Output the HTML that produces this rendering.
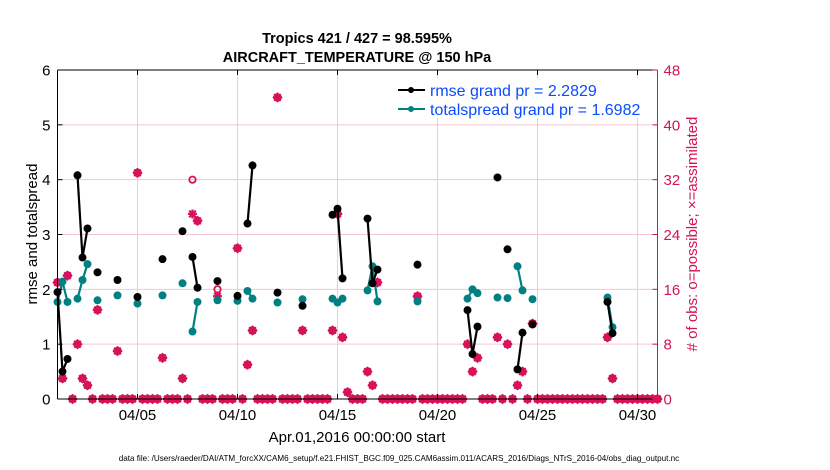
<!DOCTYPE html>
<html><head><meta charset="utf-8"><style>
html,body{margin:0;padding:0;background:#fff;}
svg{display:block;font-family:"Liberation Sans",Arial,sans-serif;}
</style></head><body>
<svg id="chart" width="830" height="470" viewBox="0 0 830 470" xmlns="http://www.w3.org/2000/svg">
<text x="357" y="43" text-anchor="middle" font-size="14.5" font-weight="bold">Tropics 421 / 427 = 98.595%</text>
<text x="357" y="62" text-anchor="middle" font-size="14.5" font-weight="bold">AIRCRAFT_TEMPERATURE @ 150 hPa</text>
<g id="grid"></g>
<g id="marks"></g>
<g id="axes"></g>
<text transform="translate(37,234) rotate(-90)" text-anchor="middle" font-size="15">rmse and totalspread</text>
<text transform="translate(697,234) rotate(-90)" text-anchor="middle" font-size="15" fill="#d6125a"># of obs: o=possible; ×=assimilated</text>
<text x="357" y="442" text-anchor="middle" font-size="15">Apr.01,2016 00:00:00 start</text>
<text x="399" y="461" text-anchor="middle" font-size="8.1">data file: /Users/raeder/DAI/ATM_forcXX/CAM6_setup/f.e21.FHIST_BGC.f09_025.CAM6assim.011/ACARS_2016/Diags_NTrS_2016-04/obs_diag_output.nc</text>
<g>
<rect x="393" y="78" width="258" height="40" fill="#fff"/>
<g>
<line x1="398" y1="90" x2="425" y2="90" stroke="#000" stroke-width="2"/><circle cx="411" cy="90" r="3" fill="#000"/>
<text x="430" y="96" font-size="16" fill="#0a4cff">rmse grand pr = 2.2829</text></g>
<g>
<line x1="398" y1="109" x2="425" y2="109" stroke="#008080" stroke-width="2"/><circle cx="411" cy="109" r="3" fill="#008080"/>
<text x="430" y="115" font-size="16" fill="#0a4cff">totalspread grand pr = 1.6982</text></g>
</g>
</svg>
<script>
// bin index (6-hourly bins from Apr 1 00:00)
const rmseBins = [0,1,2,4,5,6,8,12,16,21,25,27,28,32,36,38,39,44,49,55,56,57,62,63,64,72,82,83,84,88,90,92,93,95,110,111];
const rmseVals = [1.95,0.50,0.73,4.08,2.58,3.11,2.31,2.17,1.86,2.55,3.06,2.59,2.03,2.15,1.88,3.20,4.26,1.94,1.70,3.36,3.47,2.20,3.29,2.11,2.36,2.45,1.62,0.82,1.32,4.04,2.73,0.54,1.21,1.36,1.77,1.20];
const spreadVals = [1.77,2.14,1.77,1.83,2.17,2.46,1.80,1.89,1.74,1.89,2.11,1.23,1.77,1.80,1.79,1.97,1.83,1.76,1.82,1.83,1.76,1.83,1.98,2.42,1.78,1.78,1.83,2.00,1.93,1.85,1.84,2.42,1.98,1.82,1.85,1.31];
const obsBins = [0,1,2,4,5,6,8,12,16,21,25,27,28,32,36,38,39,44,49,55,56,57,58,62,63,64,72,82,83,84,88,90,92,93,95,110,111];
const obsAssim = [17,3,18,8,3,2,13,7,33,6,3,27,26,15,22,5,10,44,10,10,27,9,1,4,2,17,15,8,4,6,9,8,2,4,11,9,3];
const obsPossible = [17,3,18,8,3,2,13,7,33,6,3,32,26,16,22,5,10,44,10,10,27,9,1,4,2,17,15,8,4,6,9,8,2,4,11,9,3];
const xTickDays = [4,9,14,19,24,29];
const xTickLabels = ["04/05","04/10","04/15","04/20","04/25","04/30"];
const yLeftTicks = [0,1,2,3,4,5,6];
const yRightTicks = [0,8,16,24,32,40,48];

const X0=57.5, X1=657.5, Y0=399, Y1=70;
const NS="http://www.w3.org/2000/svg";
function xDay(d){return X0+(d/30)*(X1-X0);}
function xBin(k){return xDay(k*0.25);}
function yL(v){return Y0-(v/6)*(Y0-Y1);}
function yR(v){return Y0-(v/48)*(Y0-Y1);}
function mk(tag,attrs,parent){const e=document.createElementNS(NS,tag);for(const k in attrs)e.setAttribute(k,attrs[k]);parent.appendChild(e);return e;}
const grid=document.getElementById('grid'), marks=document.getElementById('marks'), axes=document.getElementById('axes');
const CR="#d6125a";

xTickDays.forEach((d,i)=>{
  const l=mk('line',{x1:xDay(d),x2:xDay(d),y1:Y1,y2:Y0,stroke:'#d8d8d8','stroke-width':1},grid);
  
  
});
yRightTicks.forEach(v=>{
  if(v===0||v===48)return;
  const l=mk('line',{x1:X0,x2:X1,y1:yR(v),y2:yR(v),stroke:'#f3c6d6','stroke-width':1},grid);
  
  
});

function zeroFill(arrB,arrV){const m={};arrB.forEach((b,i)=>m[b]=arrV[i]);return m;}
const possMap=zeroFill(obsBins,obsPossible), assimMap=zeroFill(obsBins,obsAssim);
for(let k=0;k<=120;k++){
  const p=possMap[k]||0, a=assimMap[k]||0, x=xBin(k);
  const g=mk('g',{},marks);
  
  
  mk('circle',{cx:x,cy:yR(p),r:3.2,fill:'none',stroke:CR,'stroke-width':1.8},g);
  const y=yR(a), s=4.5;
  mk('path',{d:`M${x-s},${y}H${x+s}M${x},${y-s}V${y+s}M${x-3.3},${y-3.3}L${x+3.3},${y+3.3}M${x-3.3},${y+3.3}L${x+3.3},${y-3.3}`,stroke:CR,'stroke-width':2.2,fill:'none'},g);
  if(p===a){mk('path',{d:`M${x},${y-5.2}L${x+5.2},${y}L${x},${y+5.2}L${x-5.2},${y}Z`,fill:CR},g);}
}

function drawSeries(vals,color,name){
  for(let i=1;i<rmseBins.length;i++){
    if(rmseBins[i]-rmseBins[i-1]===1){
      const l=mk('line',{x1:xBin(rmseBins[i-1]),y1:yL(vals[i-1]),x2:xBin(rmseBins[i]),y2:yL(vals[i]),stroke:color,'stroke-width':2.2},marks);
      
      
    }
  }
  rmseBins.forEach((b,i)=>{
    const c=mk('circle',{cx:xBin(b),cy:yL(vals[i]),r:4,fill:color},marks);
    
    
  });
}
drawSeries(spreadVals,'#008080','totalspread');
drawSeries(rmseVals,'#000000','rmse');

mk('line',{x1:X0,x2:X0,y1:Y1,y2:Y0,stroke:'#000','stroke-width':1},axes);
mk('line',{x1:X0,x2:X1,y1:Y0,y2:Y0,stroke:'#000','stroke-width':1},axes);
mk('line',{x1:X0,x2:X1,y1:Y1,y2:Y1,stroke:'#000','stroke-width':1},axes);
mk('line',{x1:X1,x2:X1,y1:Y1,y2:Y0,stroke:CR,'stroke-width':1},axes);
xTickDays.forEach((d,i)=>{
  mk('line',{x1:xDay(d),x2:xDay(d),y1:Y0,y2:Y0-5,stroke:'#000'},axes);
  mk('line',{x1:xDay(d),x2:xDay(d),y1:Y1,y2:Y1+5,stroke:'#000'},axes);
  const t=mk('text',{x:xDay(d),y:Y0+21,'text-anchor':'middle','font-size':15},axes);
  t.textContent=xTickLabels[i];
  
  
});
yLeftTicks.forEach(v=>{
  mk('line',{x1:X0,x2:X0+5,y1:yL(v),y2:yL(v),stroke:'#000'},axes);
  const t=mk('text',{x:X0-7,y:yL(v)+5.5,'text-anchor':'end','font-size':15},axes);
  t.textContent=v;
  
  
});
yRightTicks.forEach(v=>{
  mk('line',{x1:X1-5,x2:X1,y1:yR(v),y2:yR(v),stroke:CR},axes);
  const t=mk('text',{x:X1+6,y:yR(v)+5.5,'font-size':15,fill:CR},axes);
  t.textContent=v;
  
  
});
</script>
</body></html>
